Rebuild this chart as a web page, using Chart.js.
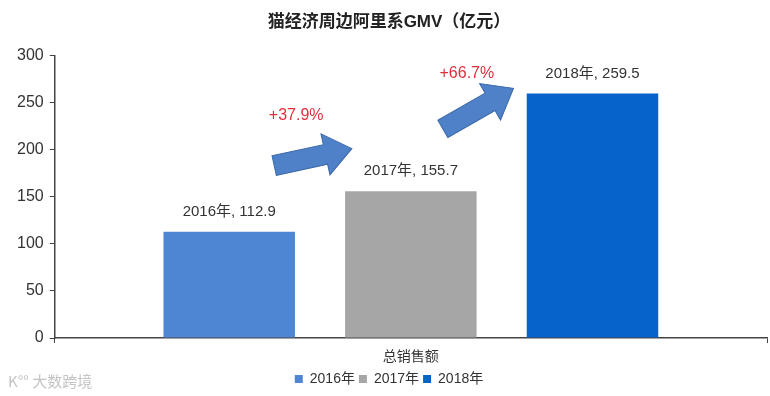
<!DOCTYPE html>
<html>
<head>
<meta charset="utf-8">
<script src="https://cdn.jsdelivr.net/npm/chart.js@4"></script>
<style>
  html, body { margin: 0; padding: 0; background: #fff; }
  #wrap { width: 770px; height: 396px; }
</style>
</head>
<body>
<div id="wrap"><canvas id="gmvChart"></canvas></div>
<script>
const categories = ['总销售额'];
const years = ['2016年', '2017年', '2018年'];
const gmv = [112.9, 155.7, 259.5];
const growth = ['+37.9%', '+66.7%'];
const barColors = ['#4f86d4', '#a6a6a6', '#0563c9'];
const yTicks = [0, 50, 100, 150, 200, 250, 300];

const FONT = '"Liberation Sans", "Noto Sans CJK SC", sans-serif';

// labels above bars, growth arrows, watermark
const extras = {
    id: 'extras',
    afterDatasetsDraw(chart) {
        const ctx = chart.ctx;
        const y = chart.scales.y;
        const bars = chart.data.datasets.map((ds, i) => chart.getDatasetMeta(i).data[0]);

        ctx.save();
        ctx.font = '15px ' + FONT;
        ctx.fillStyle = '#333';
        ctx.textAlign = 'center';
        ctx.textBaseline = 'middle';
        bars.forEach((bar, i) => {
            ctx.fillText(years[i] + ', ' + gmv[i], bar.x, bar.y - 20);
        });

        // arrows between bars
        const arrows = [
            { x0: bars[0].x + 45, y0: y.getPixelForValue(183), x1: bars[1].x - 59, y1: y.getPixelForValue(201) },
            { x0: bars[1].x + 32, y0: y.getPixelForValue(222), x1: bars[2].x - 79, y1: y.getPixelForValue(265) }
        ];
        arrows.forEach(a => drawArrow(ctx, a.x0, a.y0, a.x1, a.y1));

        ctx.font = '16px ' + FONT;
        ctx.fillStyle = '#e0303a';
        ctx.fillText(growth[0], bars[0].x + 67, y.getPixelForValue(236));
        ctx.fillText(growth[1], bars[1].x + 56, y.getPixelForValue(281));

        // watermark
        ctx.font = '15px "Noto Sans CJK SC", sans-serif';
        ctx.fillStyle = '#c4c4c4';
        ctx.textAlign = 'left';
        ctx.fillText('K°° 大数跨境', 8, 381);
        ctx.restore();
    }
};

function drawArrow(ctx, x0, y0, x1, y1) {
    const len = Math.hypot(x1 - x0, y1 - y0);
    const ang = Math.atan2(y1 - y0, x1 - x0);
    const shaft = 10, head = 21, headLen = 27;
    ctx.save();
    ctx.translate(x0, y0);
    ctx.rotate(ang);
    ctx.beginPath();
    ctx.moveTo(0, -shaft);
    ctx.lineTo(len - headLen, -shaft);
    ctx.lineTo(len - headLen, -head);
    ctx.lineTo(len, 0);
    ctx.lineTo(len - headLen, head);
    ctx.lineTo(len - headLen, shaft);
    ctx.lineTo(0, shaft);
    ctx.closePath();
    ctx.fillStyle = '#4f81c8';
    ctx.fill();
    ctx.strokeStyle = '#3a68a8';
    ctx.lineWidth = 1;
    ctx.stroke();
    ctx.restore();
}

new Chart(document.getElementById('gmvChart'), {
    type: 'bar',
    data: {
        labels: categories,
        datasets: years.map((yr, i) => ({
            label: yr,
            data: [gmv[i]],
            backgroundColor: barColors[i],
            barPercentage: 0.724,
            categoryPercentage: 0.765
        }))
    },
    options: {
        responsive: true,
        maintainAspectRatio: false,
        animation: false,
        layout: { padding: { left: 11, right: 3, top: 0, bottom: 0 } },
        plugins: {
            title: {
                display: true,
                text: '猫经济周边阿里系GMV（亿元）',
                color: '#222',
                font: { family: FONT, size: 17, weight: 'bold' },
                padding: { top: 12, bottom: 23 }
            },
            legend: {
                position: 'bottom',
                labels: {
                    color: '#333',
                    font: { family: FONT, size: 14 },
                    boxWidth: 8,
                    boxHeight: 8,
                    padding: 4
                }
            },
            tooltip: { enabled: false }
        },
        scales: {
            x: {
                afterFit: axis => { axis.height = 30; },
                grid: { display: true, drawOnChartArea: false, tickLength: 5, color: '#444' },
                border: { color: '#444', width: 1.5 },
                ticks: { color: '#333', font: { family: FONT, size: 14 }, padding: 6 }
            },
            y: {
                min: 0,
                max: 300,
                afterBuildTicks: axis => { axis.ticks = yTicks.map(v => ({ value: v })); },
                grid: { display: true, drawOnChartArea: false, tickLength: 5, color: '#444' },
                border: { color: '#444', width: 1.5 },
                ticks: { color: '#333', font: { family: FONT, size: 16 }, padding: 6 }
            }
        }
    },
    plugins: [extras]
});
</script>
</body>
</html>
